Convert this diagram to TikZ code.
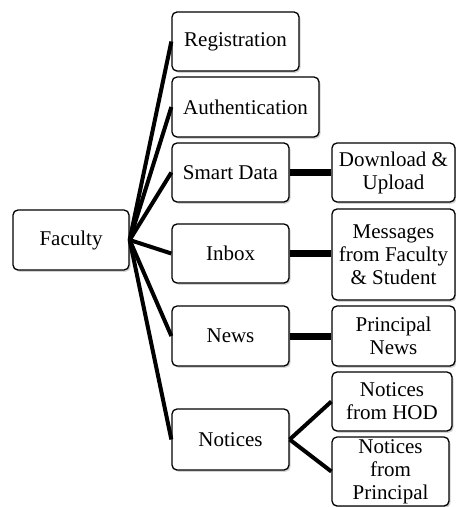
\documentclass[tikz,border=0pt]{standalone}
\usepackage{fontspec}
\setmainfont{Liberation Serif}
\usetikzlibrary{shadows}
\tikzset{
  box/.style={draw,line width=0.65pt,rounded corners=2.5pt,fill=white,align=center,inner sep=1pt,
    font=\fontsize{10.5}{11.5}\selectfont,
    drop shadow={shadow xshift=0.8pt,shadow yshift=-0.9pt,opacity=0.35}},
  link/.style={line width=2pt},
  wide/.style={line width=3.5pt}
}
\begin{document}
\begin{tikzpicture}[x=0.5pt,y=-0.5pt]
			\useasboundingbox (0,0) rectangle (455,507);
			\node[box,minimum width=58pt,minimum height=30pt] (fac) at (71,240) {Faculty};
			\node[box,minimum width=63.5pt,minimum height=29.5pt] (reg) at (235.5,41.5) {Registration};
			\node[box,minimum width=73.5pt,minimum height=30pt] (auth) at (245.5,107) {Authentication};
			\node[box,minimum width=58.5pt,minimum height=29.5pt] (smart) at (230.5,172.5) {Smart Data};
			\node[box,minimum width=61.5pt,minimum height=29.5pt] (down) at (393.5,172.5) {Download \&\\Upload};
			\node[box,minimum width=58.5pt,minimum height=29.5pt] (inbox) at (230.5,253.5) {Inbox};
			\node[box,minimum width=61.5pt,minimum height=45.5pt] (msg) at (393.5,254.5) {Messages\\from Faculty\\\& Student};
			\node[box,minimum width=58.5pt,minimum height=30pt] (news) at (230.5,336) {News};
			\node[box,minimum width=61.5pt,minimum height=30pt] (pnews) at (393.5,336) {Principal\\News};
			\node[box,minimum width=58.5pt,minimum height=30.5pt] (notc) at (230.5,439.5) {Notices};
			\node[box,minimum width=60pt,minimum height=29.5pt] (hod) at (392,401.5) {Notices\\from HOD};
			\node[box,minimum width=58.5pt,minimum height=34.5pt] (prin) at (390.5,471.5) {Notices\\from\\Principal};
			\draw [link] (fac.east)-- (reg.west);
			\draw [link] (fac.east)-- (auth.west);
			\draw [link] (fac.east)-- (smart.west);
			\draw [link] (fac.east)-- (inbox.west);
			\draw [link] (fac.east)-- (news.west);
			\draw [link] (fac.east)-- (notc.west);
			\draw [wide] (smart.east)-- (down.west);
			\draw [wide] (inbox.east)-- (inbox.east -| msg.west);
			\draw [wide] (news.east)-- (pnews.west);
			\draw [link] (notc.east)-- (hod.west);
			\draw [link] (notc.east)-- (prin.west);
		\end{tikzpicture}
\end{document}
